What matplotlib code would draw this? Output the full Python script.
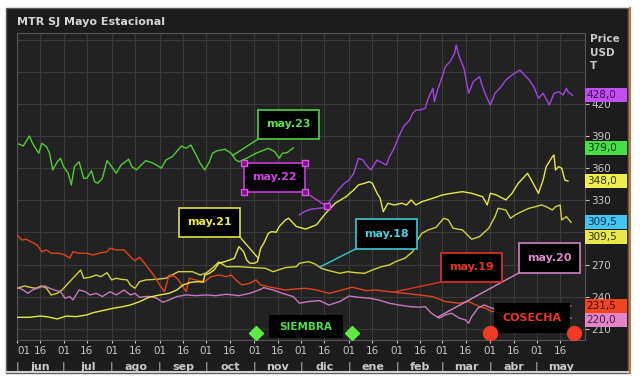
import numpy as np
import pandas as pd
import matplotlib
matplotlib.use('Agg')
import matplotlib.pyplot as plt
import matplotlib.transforms as mtransforms
from matplotlib.patches import Rectangle
from matplotlib.lines import Line2D

# campaña jun -> may, dias contados desde el 01 de junio
start = pd.Timestamp('2023-06-01')
month_names = ['jun', 'jul', 'ago', 'sep', 'oct', 'nov', 'dic', 'ene', 'feb', 'mar', 'abr', 'may']

may23_d = [1, 4, 8, 10, 14, 16, 19, 21, 23, 26, 28, 30, 33, 35, 37, 40, 43, 45, 48, 50,
           52, 55, 58, 61, 64, 67, 72, 74, 77, 80, 83, 87, 90, 93, 96, 100, 106, 109, 112, 116,
           118, 121, 124, 126, 129, 134, 138, 141, 143, 148, 154, 162, 166, 169, 171, 174, 178]
may23_v = [382.7, 380.8, 390.1, 383.3, 374, 383.3, 380.1, 374, 358.4, 366.1, 369.3, 361.5, 355.3, 344.4, 361.5, 366.1, 350.6, 350.6, 357.7, 347.5,
           346, 350.6, 367.1, 361.5, 355.3, 363, 368.4, 361.5, 358.4, 363, 367.1, 365.2, 363, 360, 367.7, 370.8, 380.8, 378.6, 381.7, 370.8,
           364.6, 358.4, 366.1, 374, 376.4, 377.7, 374, 367.7, 366.1, 369.3, 374, 378.6, 375.5, 369.3, 374, 374.5, 379.0]

may22_d = [182, 185, 189, 194, 199, 202, 207, 211, 214, 217, 220, 223, 225, 228, 232, 234, 238, 240, 243, 246,
           249, 253, 255, 257, 260, 263, 265, 268, 269, 271, 274, 276, 279, 282, 283, 285, 288, 291, 294, 298,
           300, 302, 305, 308, 312, 315, 319, 324, 327, 330, 333, 336, 339, 343, 346, 349, 352, 354, 355, 358]
may22_v = [316.4, 319.4, 321.7, 322.6, 323.2, 330.4, 339.7, 346, 349, 355.3, 369.3, 367.7, 363, 358.4, 367.7, 366.1, 363, 370.8, 378.6, 389.5,
           398.8, 405.1, 411.3, 414.4, 414.4, 416, 425.3, 434.7, 422.1, 433.1, 445.5, 454.8, 459.5, 467.3, 475.1, 464.2, 453.3, 430, 440.8, 445.5,
           436.2, 428.4, 419.1, 430, 436.2, 442.4, 447.1, 451.7, 447.1, 442.4, 436.2, 425.3, 430, 419.1, 430, 431.5, 428.4, 434.7, 431.5, 428.0]

may21_d = [0, 8, 15, 19, 26, 32, 38, 45, 49, 55, 62, 68, 73, 79, 85, 92, 98, 103, 107, 112,
           117, 120, 121, 124, 127, 130, 134, 137, 140, 143, 146, 148, 150, 153, 155, 157, 159, 162, 164, 167,
           169, 173, 175, 180, 186, 193, 199, 205, 212, 217, 220, 224, 227, 229, 232, 234, 236, 239, 243, 248,
           251, 254, 257, 261, 268, 274, 280, 287, 293, 300, 303, 305, 309, 315, 319, 323, 329, 332, 336, 339,
           341, 345, 346, 347, 349, 351, 353, 355]
may21_v = [220.8, 220.8, 222, 221.4, 219.3, 222, 221.4, 223, 225.1, 227, 229.2, 230.7, 232.3, 235.4, 239.5, 241.7, 243.2, 246.3, 251, 253.5,
           254.1, 253.5, 260.3, 261.9, 265, 271.3, 272.8, 274.3, 275.9, 286.8, 282.1, 274.3, 271.3, 271.3, 272.8, 285.2, 289.9, 299.3, 300.8, 300.2,
           305.6, 311.7, 313.3, 305.6, 303.2, 307.2, 318.1, 327.3, 333.4, 339.7, 344.4, 346, 347.5, 346, 336.6, 332, 319.4, 327.3, 325.7, 327.3,
           325.7, 330.4, 325.7, 328.8, 332, 335, 336.6, 338.1, 336.6, 333.4, 325.7, 336.6, 335, 330.4, 336.6, 346, 355.3, 347.5, 336.6, 349,
           361.5, 370.8, 372.4, 358.4, 361.5, 360, 349, 348.0]

may18_d = [0, 5, 8, 12, 16, 19, 22, 26, 29, 32, 35, 38, 41, 43, 47, 51, 54, 58, 61, 64,
           67, 71, 73, 76, 79, 83, 90, 96, 104, 113, 118, 122, 126, 130, 135, 143, 152, 160, 165, 173,
           180, 182, 188, 192, 196, 201, 208, 213, 218, 224, 229, 235, 240, 244, 250, 255, 258, 261, 265, 270,
           275, 278, 281, 287, 293, 298, 304, 308, 310, 315, 318, 321, 325, 330, 334, 338, 341, 345, 347, 350,
           351, 354, 357]
may18_v = [247.9, 250.1, 248.9, 247.9, 250.1, 247.9, 241.7, 243.2, 246.3, 251, 255.7, 260.3, 265, 257.3, 258.2, 260.3, 258.7, 262.5, 255.7, 257.3,
           256.3, 255.7, 251, 247.9, 254.1, 255.7, 256.3, 257.3, 263.4, 263.4, 260.3, 262.2, 266.9, 272.5, 268.1, 268.1, 267.2, 266.6, 263.4, 267.2,
           268.1, 271.3, 272.8, 270.6, 266.6, 264.4, 261.9, 263.4, 262.5, 261.9, 265, 268.1, 269.7, 272.8, 276, 282.1, 293, 299.3, 302.4, 304.8,
           313.3, 311.7, 304, 302.4, 293.7, 296.1, 304, 314.8, 322.6, 321, 313.3, 316.4, 319.4, 322.6, 324.1, 325.7, 324.1, 321, 324.1, 325.7,
           311.7, 314.8, 309.5]

may19_d = [0, 3, 6, 9, 13, 16, 19, 22, 27, 31, 34, 36, 40, 45, 49, 53, 58, 60, 64, 69,
           73, 76, 79, 83, 88, 92, 95, 98, 102, 104, 107, 109, 111, 115, 121, 125, 130, 135, 138, 141,
           145, 150, 154, 157, 162, 167, 173, 180, 186, 193, 201, 208, 216, 225, 231, 240, 250, 259, 268, 276,
           285, 291, 298, 302, 306, 315, 325, 335, 345, 352, 357]
may19_v = [297.7, 293, 293.7, 291.4, 288.3, 282.1, 283.7, 280.6, 280.6, 279, 276, 282.1, 280.6, 280.6, 279, 280.6, 282.1, 285.3, 283.7, 283.7,
           277.5, 273.7, 276.9, 269.7, 260.3, 251, 244.7, 260.3, 258.7, 255.7, 249.4, 244.7, 257.3, 255.7, 254.1, 258.7, 260.3, 258.7, 260.3, 255.7,
           251, 252.6, 255.7, 251, 249.4, 247.9, 246.3, 247.3, 247.9, 246.3, 243.2, 245.7, 248.9, 245.7, 246.3, 244.7, 243.2, 241.7, 240.1, 235.5,
           233.9, 235.5, 230.8, 229.3, 226.1, 228, 227, 229, 230, 229, 231.5]

may20_d = [0, 4, 7, 10, 15, 18, 21, 24, 28, 31, 34, 36, 40, 44, 47, 51, 55, 60, 64, 69,
           73, 76, 79, 83, 86, 90, 94, 98, 103, 109, 115, 122, 128, 135, 143, 150, 156, 159, 165, 171,
           178, 182, 188, 195, 201, 208, 214, 220, 227, 233, 240, 246, 253, 259, 263, 267, 272, 276, 280, 285,
           289, 291, 293, 297, 301, 306, 315, 325, 335, 345, 357]
may20_v = [248.9, 246.3, 243.2, 246.3, 248.9, 250.1, 247.9, 246.3, 244.7, 238.6, 240.2, 237, 246.3, 244.7, 241.7, 243.2, 240.2, 244.7, 241.7, 246.3,
           241.7, 243.2, 239.5, 240.2, 240.2, 238.6, 234.9, 237, 240.2, 241.7, 241, 241.7, 241, 242.3, 241, 243.2, 246.3, 248.5, 246.3, 243.2,
           240.2, 234, 235.5, 236.4, 232.3, 235.5, 240.7, 239.5, 238.6, 237, 233.9, 232.3, 230.8, 230.2, 230.8, 224.6, 220, 223, 224.6, 220,
           218.3, 215.3, 221.5, 229.3, 232.3, 229.3, 226, 223, 222, 221, 220.0]

# etiquetas de los contratos: nombre, centro de la caja (dia, precio), dia donde apunta
tag_names = ['may.23', 'may.22', 'may.21', 'may.18', 'may.19', 'may.20']
tag_centers = [(175, 401), (166, 351.5), (124, 309.5), (238, 298.5), (293, 267.5), (343, 276)]
tag_anchor_day = [139, 199.5, 155.5, 195, 242.5, 271]

# ultimos precios del eje derecho
last_vals = [428.0, 379.0, 348.0, 309.5, 309.5, 231.5, 220.0]
last_bg = ['#c04ef0', '#44e044', '#eeee50', '#44c4f0', '#e8e84c', '#f0461e', '#e584c8']
last_fg = ['#3c0a50', '#002800', '#303000', '#00304a', '#303000', '#3a0000', '#40203a']

siembra_days = [154, 216]
cosecha_days = [305, 359]

series = [
    (may18_d, may18_v, '#d2d23a'),
    (may19_d, may19_v, '#e0441c'),
    (may20_d, may20_v, '#c878c0'),
    (may21_d, may21_v, '#e8e848'),
    (may22_d, may22_v, '#a444e4'),
    (may23_d, may23_v, '#52cc34'),
]
tag_edge = ['#52d040', '#c83cd8', '#e0e040', '#40c8d4', '#e03422', '#d084c4']
tag_text = ['#5ce048', '#d044e8', '#e8e848', '#48d0dc', '#e83422', '#d88cc8']
tag_series = [5, 4, 3, 0, 1, 2]
tag_corner = ['bl', 'br', 'br', 'bl', 'bl', 'bl']

month_days = (pd.date_range(start, periods=12, freq='MS') - start).days.values
end_day = (pd.Timestamp('2024-06-01') - start).days

W, H = 640, 383
fig = plt.figure(figsize=(W / 100, H / 100), dpi=100, facecolor='white')

# panel oscuro de fondo
fig.patches.append(Rectangle((6 / W, 1 - 373 / H), 622 / W, 365 / H, transform=fig.transFigure,
                             facecolor='#1c1c1c', edgecolor='#5a5a5a', lw=1.0, zorder=-2))
fig.add_artist(Line2D([630 / W, 630 / W], [1 - 373 / H, 1 - 8 / H], transform=fig.transFigure,
                      color='#c07838', lw=1.5, zorder=-1))
fig.add_artist(Line2D([6 / W, 628 / W], [1 - 372 / H, 1 - 372 / H], transform=fig.transFigure,
                      color='#d0d0d0', lw=1.5, zorder=-1))

ax = fig.add_axes([17 / W, 1 - 340 / H, 568 / W, 307 / H])
ax.set_zorder(1)
ax.set_facecolor('#222222')
ymin, ymax = 199.6, 486.3
ax.set_xlim(0, end_day)
ax.set_ylim(ymin, ymax)

for d, v, c in series:
    ax.plot(d, v, color=c, lw=1.0, zorder=3)

# grilla
ticks = np.sort(np.concatenate([month_days, month_days + 15]))
ax.set_xticks(ticks)
ax.set_xticklabels(['01' if t in month_days else '16' for t in ticks])
ax.get_xticklabels()[0].set_horizontalalignment('left')
yt = np.arange(210, 421, 30)
ax.set_yticks(yt)
ax.set_yticklabels(['' if t == 300 else str(t) for t in yt])
ax.grid(True, color='#3a3a3a', lw=0.8)
for yy in [450, 480]:
    ax.axhline(yy, color='#3a3a3a', lw=0.8, zorder=0.5)
ax.set_axisbelow(True)
ax.yaxis.tick_right()
ax.tick_params(axis='x', colors='#c8c8c8', labelsize=7.5, length=2.5, pad=2)
ax.tick_params(axis='y', colors='#c8c8c8', labelsize=7.5, length=3, pad=1.5)
for s in ax.spines.values():
    s.set_color('#555555')
    s.set_linewidth(0.8)

# meses abajo
xtrans = mtransforms.blended_transform_factory(ax.transData, ax.transAxes)
bounds = list(month_days) + [end_day]
for i, name in enumerate(month_names):
    ax.text((bounds[i] + bounds[i + 1]) / 2, -0.087, name, transform=xtrans, ha='center', va='center',
            color='#c8c8c8', fontsize=8, fontweight='bold', clip_on=False)
for b in month_days:
    ax.text(b, -0.087, '|', transform=xtrans, ha='center', va='center', color='#c8c8c8',
            fontsize=8, clip_on=False)

# cajas de los contratos
BW, BH = 39.3, 27.5
for name, (cx, cy), ad, ec, tc, si, corner in zip(tag_names, tag_centers, tag_anchor_day, tag_edge,
                                                   tag_text, tag_series, tag_corner):
    d, v, _ = series[si]
    ay = np.interp(ad, d, v)
    sx = cx - BW / 2 if corner == 'bl' else cx + BW / 2
    sy = cy - BH / 2
    ax.plot([sx, ad], [sy, ay], color=ec, lw=1.0, zorder=5)
    ax.add_patch(Rectangle((cx - BW / 2, cy - BH / 2), BW, BH, facecolor='black', edgecolor=ec,
                           lw=1.2, zorder=6))
    ax.text(cx, cy, name, ha='center', va='center', color=tc, fontsize=8, fontweight='bold', zorder=7)
    if name == 'may.22':
        hx = [cx - BW / 2, cx + BW / 2, cx - BW / 2, cx + BW / 2, ad]
        hy = [cy - BH / 2, cy - BH / 2, cy + BH / 2, cy + BH / 2, ay]
        ax.plot(hx, hy, ls='none', marker='s', ms=4.5, mfc='#7a167e', mec='#e050f0', mew=1.0, zorder=8)

# siembra / cosecha
ax.add_patch(Rectangle((162.4, 201.5), 47.7, 21.5, facecolor='black', edgecolor='none', zorder=6))
ax.text(186.2, 212.2, 'SIEMBRA', ha='center', va='center', color='#50e040', fontsize=7.5,
        fontweight='bold', zorder=7)
ax.plot(siembra_days, [206, 206], ls='none', marker='D', ms=7, color='#60e848', zorder=8, clip_on=False)
ax.add_patch(Rectangle((307.3, 206), 49, 28, facecolor='black', edgecolor='none', zorder=6))
ax.text(331.8, 220.1, 'COSECHA', ha='center', va='center', color='#e83a24', fontsize=8,
        fontweight='bold', zorder=7)
ax.plot(cosecha_days, [206, 206], ls='none', marker='o', ms=10, color='#f03a22', zorder=8, clip_on=False)

# precios actuales a la derecha
ytrans = mtransforms.blended_transform_factory(ax.transAxes, ax.transData)
prev = None
for val, bg, fg in zip(last_vals, last_bg, last_fg):
    y = val if prev is None or prev - val >= 12.5 else prev - 13.5
    prev = y
    ax.add_patch(Rectangle((1.0, y - 6.5), 42 / 568, 13, transform=ytrans, facecolor=bg,
                           edgecolor='none', zorder=6, clip_on=False))
    ax.text(1.003, y, f'{val:.1f}'.replace('.', ','), transform=ytrans, ha='left', va='center',
            color=fg, fontsize=7.5, zorder=7, clip_on=False)

fig.text(17 / W, 1 - 22 / H, 'MTR SJ Mayo Estacional', ha='left', va='center', color='#d4d4d4',
         fontsize=8, fontweight='bold')
fig.text(590 / W, 1 - 34 / H, 'Price\nUSD\nT', ha='left', va='top', color='#c8c8c8', fontsize=7.5,
         fontweight='bold', linespacing=1.45)

fig.savefig('out.png', dpi=100, facecolor='white')
